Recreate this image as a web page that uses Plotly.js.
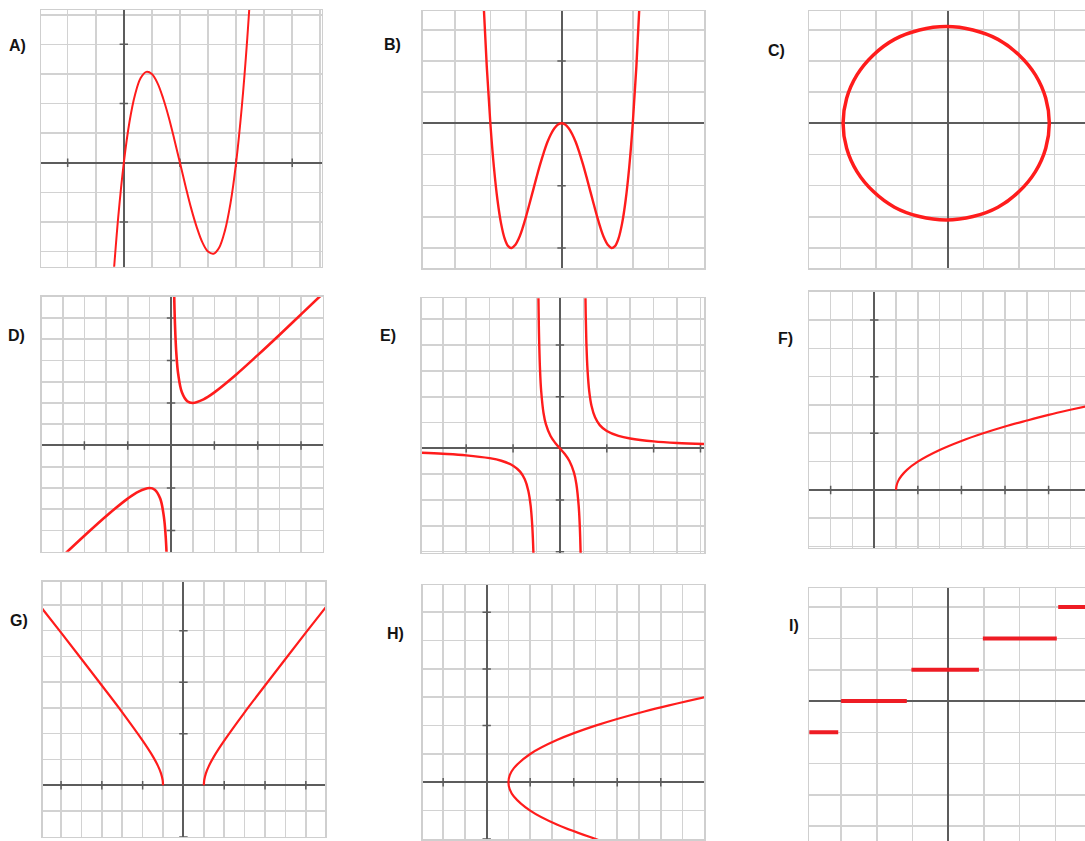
<!DOCTYPE html>
<html>
<head>
<meta charset="utf-8">
<script src="https://cdn.plot.ly/plotly-3.0.1.min.js"></script>
<style>
  html, body { margin: 0; padding: 0; background: #ffffff; }
  #chart { width: 1085px; height: 841px; }
</style>
</head>
<body>
<div id="chart"></div>
<script>
// ---- Curve samples for each graph ----

// A) cubic with zeros at 0, 2, 4
const aX = [-0.4, -0.2, 0, 0.2, 0.4, 0.6, 0.8, 1.0, 1.2, 1.4, 1.6, 1.8, 2.0, 2.2, 2.4, 2.6, 2.8, 3.0, 3.2, 3.4, 3.6, 3.8, 4.0, 4.2, 4.4, 4.6];
const aY = [-4.22, -1.85, 0, 1.37, 2.30, 2.86, 3.07, 3.0, 2.69, 2.18, 1.54, 0.79, 0, -0.79, -1.54, -2.18, -2.69, -3.0, -3.07, -2.86, -2.30, -1.37, 0, 1.85, 4.22, 7.18];

// B) quartic "W"
const bX = [-2.2, -2.1, -2.0, -1.9, -1.8, -1.7, -1.6, -1.5, -1.4, -1.3, -1.2, -1.1, -1.0, -0.9, -0.8, -0.7, -0.6, -0.5, -0.4, -0.3, -0.2, -0.1,
            0, 0.1, 0.2, 0.3, 0.4, 0.5, 0.6, 0.7, 0.8, 0.9, 1.0, 1.1, 1.2, 1.3, 1.4, 1.5, 1.6, 1.7, 1.8, 1.9, 2.0, 2.1, 2.2];
const bY = [4.07, 1.81, 0, -1.41, -2.46, -3.21, -3.69, -3.94, -4.0, -3.90, -3.69, -3.38, -3.0, -2.58, -2.15, -1.72, -1.31, -0.94, -0.61, -0.35, -0.16, -0.04,
            0, -0.04, -0.16, -0.35, -0.61, -0.94, -1.31, -1.72, -2.15, -2.58, -3.0, -3.38, -3.69, -3.90, -4.0, -3.94, -3.69, -3.21, -2.46, -1.41, 0, 1.81, 4.07];

// C) closed circle
const cX = [2.85, 2.75, 2.46, 2.00, 1.41, 0.71, -0.04, -0.79, -1.49, -2.08, -2.54, -2.83, -2.93, -2.83, -2.54, -2.08, -1.49, -0.79, -0.04, 0.71, 1.41, 2.00, 2.46, 2.75, 2.85];
const cY = [0, 0.80, 1.55, 2.19, 2.69, 2.99, 3.1, 2.99, 2.69, 2.19, 1.55, 0.80, 0, -0.80, -1.55, -2.19, -2.69, -2.99, -3.1, -2.99, -2.69, -2.19, -1.55, -0.80, 0];

// D) two branches around a vertical asymptote
const dRightX = [0.14, 0.16, 0.2, 0.25, 0.33, 0.5, 0.75, 1, 1.5, 2, 3, 4, 5, 6, 7];
const dRightY = [7.28, 6.41, 5.2, 4.25, 3.36, 2.5, 2.08, 2, 2.17, 2.5, 3.33, 4.25, 5.2, 6.17, 7.14];
const dLeftX = [-5, -4, -3, -2, -1.5, -1, -0.75, -0.5, -0.33, -0.25, -0.19];
const dLeftY = [-5.2, -4.25, -3.33, -2.5, -2.17, -2, -2.08, -2.5, -3.36, -4.25, -5.45];

// E) three branches, asymptotes at x = -1 and x = 1
const eLeftX = [-5.9, -5, -4, -3, -2.5, -2, -1.7, -1.5, -1.35, -1.25, -1.18, -1.13, -1.1];
const eLeftY = [-0.17, -0.21, -0.27, -0.38, -0.48, -0.67, -0.9, -1.2, -1.64, -2.22, -3.01, -4.08, -5.24];
const eMidX = [-0.92, -0.9, -0.85, -0.8, -0.7, -0.6, -0.4, -0.2, 0, 0.2, 0.4, 0.6, 0.7, 0.8, 0.85, 0.9, 0.92];
const eMidY = [5.99, 4.74, 3.06, 2.22, 1.37, 0.94, 0.48, 0.21, 0, -0.21, -0.48, -0.94, -1.37, -2.22, -3.06, -4.74, -5.99];
const eRightX = [1.08, 1.1, 1.13, 1.18, 1.25, 1.35, 1.5, 1.7, 2, 2.5, 3, 4, 5, 6.2];
const eRightY = [6.49, 5.24, 4.08, 3.01, 2.22, 1.64, 1.2, 0.9, 0.67, 0.48, 0.38, 0.27, 0.21, 0.17];

// F) square-root curve starting at (1, 0)
const fX = [1, 1.02, 1.1, 1.25, 1.5, 2, 3, 4, 5, 6, 7, 8, 9, 9.7];
const fY = [0, 0.14, 0.32, 0.5, 0.71, 1, 1.41, 1.73, 2, 2.24, 2.45, 2.65, 2.83, 2.95];

// G) upper hyperbola halves
const gRightX = [1, 1.02, 1.1, 1.25, 1.5, 2, 3, 4, 5, 6, 7];
const gRightY = [0, 0.2, 0.46, 0.75, 1.12, 1.73, 2.83, 3.87, 4.9, 5.92, 6.93];
const gLeftX = [-1, -1.02, -1.1, -1.25, -1.5, -2, -3, -4, -5, -6, -7];
const gLeftY = [0, 0.2, 0.46, 0.75, 1.12, 1.73, 2.83, 3.87, 4.9, 5.92, 6.93];

// H) sideways parabola with vertex (1, 0)
const hX = [5.2, 3.25, 2, 1.25, 1.06, 1, 1.06, 1.25, 2, 3.25, 5, 7.25, 10.3];
const hY = [-2.05, -1.5, -1, -0.5, -0.25, 0, 0.25, 0.5, 1, 1.5, 2, 2.5, 3.05];

// I) step function
const iLevel = [-1, 0, 1, 2, 3];
const iStart = [-3.95, -3.0, -1.03, 0.97, 3.08];
const iEnd = [-3.08, -1.16, 0.86, 3.04, 3.9];

// Axis tick marks drawn on the coordinate axes
const ticksX = {
  A: [-2, 2, 4, 6], B: [], C: [], D: [-4, -2, 2, 4, 6], E: [-4, -2, 2, 4, 6],
  F: [-2, 2, 4, 6, 8], G: [-6, -4, -2, 2, 4, 6], H: [-2, 2, 4, 6, 8], I: []
};
const ticksY = {
  A: [-2, 2, 4], B: [-4, -2, 2], C: [], D: [-4, -2, 2, 4, 6], E: [-4, -2, 2, 4],
  F: [2, 4, 6], G: [-2, 2, 4, 6], H: [-2, 2, 4, 6], I: []
};

const panelLetters = ['A)', 'B)', 'C)', 'D)', 'E)', 'F)', 'G)', 'H)', 'I)'];

// ---- Layout of the 3x3 sheet (pixel boxes) ----
const W = 1085, H = 841;
const panels = [
  { key: 'A', box: [41, 321.7, 10, 266.7],    xr: [-2.95, 7.05], yr: [-3.51, 5.16], label: [17, 46] },
  { key: 'B', box: [422.7, 704, 11, 268.3],   xr: [-3.9, 4.0],   yr: [-4.65, 3.6],  label: [392, 44] },
  { key: 'C', box: [809, 1085, 11, 268.3],    xr: [-3.885, 3.85], yr: [-4.65, 3.6], label: [776.5, 50] },
  { key: 'D', box: [41.7, 322.7, 296.7, 551.7], xr: [-5.97, 7.0], yr: [-5.0, 7.0],  label: [16.5, 335] },
  { key: 'E', box: [421.7, 704, 298.3, 552.7], xr: [-5.9, 6.15], yr: [-4.04, 5.81], label: [388, 335] },
  { key: 'F', box: [809.3, 1085, 291.7, 547.7], xr: [-2.98, 9.67], yr: [-2.04, 7.0], label: [785, 338] },
  { key: 'G', box: [42.7, 325, 581.7, 836.7],  xr: [-6.9, 6.94], yr: [-2.0, 7.9],   label: [18.5, 620] },
  { key: 'H', box: [422.7, 704.3, 585, 839.3], xr: [-2.94, 10.0], yr: [-2.01, 6.96], label: [395, 633.5] },
  { key: 'I', box: [809.3, 1085, 588.3, 841],  xr: [-3.89, 3.83], yr: [-4.47, 3.6], label: [794, 625] }
];

const RED = 'rgb(255, 28, 28)';
const GRID = '#d2d2d2';
const AXIS = '#5c5c5c';

const traces = [];
const layout = {
  width: W, height: H,
  margin: { l: 0, r: 0, t: 0, b: 0 },
  paper_bgcolor: '#ffffff',
  plot_bgcolor: '#ffffff',
  showlegend: false,
  hovermode: false,
  annotations: [],
  shapes: []
};

function curve(n, xs, ys, width) {
  traces.push({
    type: 'scatter', mode: 'lines', x: xs, y: ys,
    xaxis: 'x' + (n === 1 ? '' : n), yaxis: 'y' + (n === 1 ? '' : n),
    line: { color: RED, width: width, shape: 'spline', smoothing: 1 },
    hoverinfo: 'skip'
  });
}

panels.forEach((p, idx) => {
  const n = idx + 1;
  const sfx = n === 1 ? '' : String(n);
  const [l, r, t, b] = p.box;
  const common = {
    showgrid: true, gridcolor: GRID, gridwidth: 1.6,
    dtick: 1, tick0: 0, ticks: '', showticklabels: false,
    zeroline: true, zerolinecolor: AXIS, zerolinewidth: 2,
    showline: true, mirror: true, linecolor: '#cfcfcf', linewidth: 1.5,
    fixedrange: true
  };
  layout['xaxis' + sfx] = Object.assign({}, common, {
    domain: [Math.max(0, l / W), Math.min(1, r / W)],
    range: p.xr, anchor: 'y' + sfx
  });
  layout['yaxis' + sfx] = Object.assign({}, common, {
    domain: [Math.max(0, 1 - b / H), Math.min(1, 1 - t / H)],
    range: p.yr, anchor: 'x' + sfx
  });

  // small tick marks on the axes
  const tx = ticksX[p.key], ty = ticksY[p.key];
  if (tx.length) {
    traces.push({
      type: 'scatter', mode: 'markers', x: tx, y: tx.map(() => 0),
      xaxis: 'x' + sfx, yaxis: 'y' + sfx, hoverinfo: 'skip',
      marker: { symbol: 'line-ns', size: 6, line: { color: AXIS, width: 1.5 } }
    });
  }
  if (ty.length) {
    traces.push({
      type: 'scatter', mode: 'markers', x: ty.map(() => 0), y: ty,
      xaxis: 'x' + sfx, yaxis: 'y' + sfx, hoverinfo: 'skip',
      marker: { symbol: 'line-ew', size: 6, line: { color: AXIS, width: 1.5 } }
    });
  }

  layout.annotations.push({
    xref: 'paper', yref: 'paper',
    x: p.label[0] / W, y: 1 - p.label[1] / H,
    xanchor: 'center', yanchor: 'middle',
    text: '<b>' + panelLetters[idx] + '</b>', showarrow: false,
    font: { family: 'Liberation Sans, Arial, sans-serif', size: 16, color: '#141414' }
  });
});

// ---- Curves ----
curve(1, aX, aY, 2);
curve(2, bX, bY, 2.4);
curve(3, cX, cY, 3.5);
curve(4, dRightX, dRightY, 2.6);
curve(4, dLeftX, dLeftY, 2.6);
curve(5, eLeftX, eLeftY, 2.4);
curve(5, eMidX, eMidY, 2.4);
curve(5, eRightX, eRightY, 2.4);
curve(6, fX, fY, 2.2);
curve(7, gRightX, gRightY, 2.2);
curve(7, gLeftX, gLeftY, 2.2);
curve(8, hX, hY, 2.2);

// step segments for I
const stepX = [], stepY = [];
iLevel.forEach((lv, k) => {
  stepX.push(iStart[k], iEnd[k], null);
  stepY.push(lv, lv, null);
});
traces.push({
  type: 'scatter', mode: 'lines', x: stepX, y: stepY,
  xaxis: 'x9', yaxis: 'y9', connectgaps: false, hoverinfo: 'skip',
  line: { color: 'rgb(238, 28, 36)', width: 4 }
});

Plotly.newPlot('chart', traces, layout, { staticPlot: true, displayModeBar: false });
</script>
</body>
</html>
